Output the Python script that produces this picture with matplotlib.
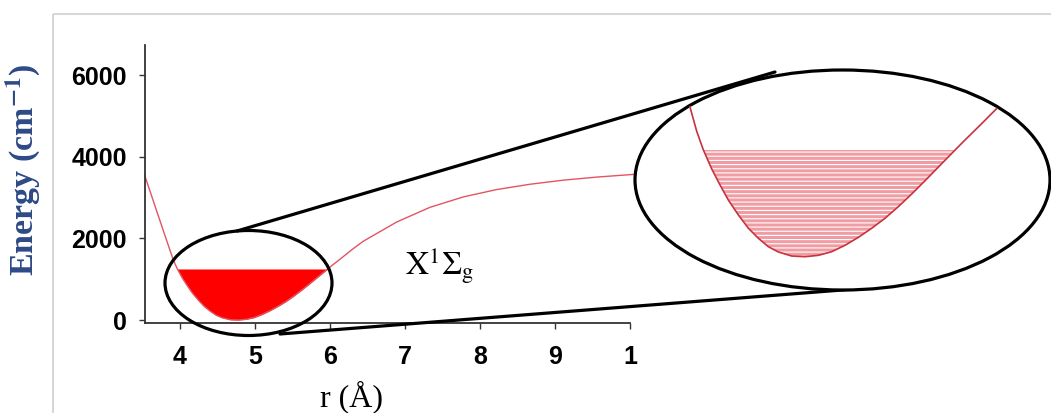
import numpy as np
import matplotlib
matplotlib.use('Agg')
import matplotlib.pyplot as plt
from matplotlib.patches import Ellipse, Rectangle

plt.rcParams['font.family'] = ['Liberation Sans', 'DejaVu Sans']
plt.rcParams['mathtext.fontset'] = 'stix'
plt.rcParams['hatch.linewidth'] = 0.8

# X1Sigma_g potential curve, r in angstrom, energy in cm-1
r = np.array([3.53, 3.62, 3.71, 3.79, 3.857, 3.911, 3.963, 4.030, 4.097, 4.163,
              4.243, 4.323, 4.402, 4.482, 4.562, 4.668, 4.774, 4.880, 4.987, 5.093,
              5.199, 5.305, 5.411, 5.517, 5.624, 5.730, 5.836, 6.033, 6.168, 6.301,
              6.444, 6.889, 7.333, 7.778, 8.222, 8.667, 9.111, 9.556, 10.0, 10.07])
E = np.array([3535, 3045, 2555, 2120, 1757, 1470, 1255, 1030, 840, 664,
              489, 333, 216, 117, 55, 8, 0, 16, 59, 134,
              227, 333, 450, 586, 735, 890, 1050, 1345, 1540, 1736,
              1930, 2400, 2760, 3015, 3195, 3325, 3425, 3500, 3560, 3568])
level = 1250  # filled vibrational band

xticks = [4, 5, 6, 7, 8, 9, 10]
xticklabels = ['4', '5', '6', '7', '8', '9', '1']
yticks = [0, 2000, 4000, 6000]

W, H = 1051, 413
fig = plt.figure(figsize=(W / 100, H / 100), dpi=100)


def px_box(x0, y0, x1, y1):
    # pixel box (top-left origin) -> figure fraction
    return [x0 / W, 1 - y1 / H, (x1 - x0) / W, (y1 - y0) / H]


ax = fig.add_axes(px_box(145, 45, 630, 323), zorder=1)
ax.plot(r, E, color='#e25462', lw=1.0, clip_on=False)
ax.fill_between(r, E, level, where=E <= level, interpolate=True, color='#ff0000', lw=0)
ax.set_xlim(3.533, 10.0)
ax.set_ylim(-73, 6735)
ax.set_xticks(xticks)
ax.set_xticklabels(xticklabels)
ax.set_yticks(yticks)
for s in ['top', 'right']:
    ax.spines[s].set_visible(False)
for s in ['left', 'bottom']:
    ax.spines[s].set_color('#333333')
    ax.spines[s].set_linewidth(1.3)
ax.tick_params(direction='out', length=4, width=1, colors='#333333', labelcolor='black',
               labelsize=18)
ax.tick_params(axis='x', pad=12)
ax.tick_params(axis='y', pad=9)
for t in ax.get_xticklabels() + ax.get_yticklabels():
    t.set_fontweight('bold')

ax.text(7.0, 1100, r'$\mathrm{X}^{\mathrm{1}}\mathrm{\Sigma}_{\mathrm{g}}$', fontsize=23,
        va='baseline', color='black')

fig.text(23 / W, 1 - 170 / H, r'Energy (cm$^{\mathbf{-1}}$)', rotation=90, ha='center',
         va='center', fontsize=24.5, fontweight='bold', family='Liberation Serif',
         color='#2d4a86')
fig.text(352 / W, 1 - 397 / H, 'r (Å)', ha='center', va='center', fontsize=23,
         family='Liberation Serif', color='black')

# overlay in pixel coordinates for the zoom ellipses
ov = fig.add_axes([0, 0, 1, 1], zorder=2)
ov.set_xlim(0, W)
ov.set_ylim(H, 0)
ov.axis('off')
ov.patch.set_alpha(0)
ov.add_patch(Rectangle((53, 14), 1100, 500, fill=False, ec='#cfcfcf', lw=1.2))
ov.plot([237, 775], [231, 72], color='black', lw=2.3, solid_capstyle='round')
ov.plot([280, 855], [334, 289], color='black', lw=2.3, solid_capstyle='round')
ov.add_patch(Ellipse((248.5, 283), 167, 105, fill=False, ec='black', lw=2.3))
ov.add_patch(Ellipse((842.5, 180), 415, 220, fc='white', ec='black', lw=2.3, zorder=3))

# magnified well
ins = fig.add_axes(px_box(680, 100, 1005, 262), zorder=3)
ins.patch.set_alpha(0)
ins.axis('off')
well = (E <= 1760) & (r > 3.85) & (r < 6.31)
rw, Ew = r[well], E[well]
ins.fill_between(rw, Ew, level, where=Ew <= level, interpolate=True,
                 facecolor='#f09ca3', edgecolor='white', hatch='----', lw=0)
ins.plot(rw, Ew, color='#c8323e', lw=1.2)
ins.set_xlim(3.778, 6.367)
ins.set_ylim(-62, 1836)

fig.savefig('out.png', dpi=100)
